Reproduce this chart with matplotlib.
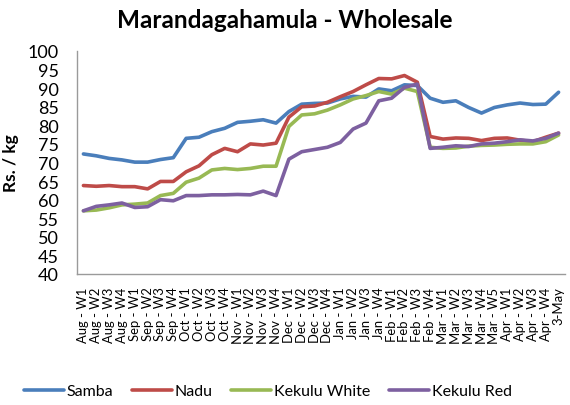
import matplotlib
matplotlib.use("Agg")
import matplotlib.pyplot as plt

plt.rcParams['font.family'] = ['Lato', 'DejaVu Sans']

months = ["Aug"] * 4 + ["Sep"] * 4 + ["Oct"] * 4 + ["Nov"] * 4 + ["Dec"] * 4 + ["Jan"] * 4 + ["Feb"] * 4 + ["Mar"] * 5 + ["Apr"] * 4
weeks = [1, 2, 3, 4] * 7 + [1, 2, 3, 4, 5] + [1, 2, 3, 4]
categories = [f"{m} - W{w}" for m, w in zip(months, weeks)] + ["3-May"]

samba = [72.3, 71.8, 71.1, 70.7, 70.1, 70.1, 70.8, 71.3, 76.5, 76.8, 78.3, 79.2, 80.8, 81.1, 81.5, 80.6,
         83.7, 85.7, 85.9, 86.0, 87.1, 87.8, 87.6, 89.8, 89.3, 90.9, 90.7, 87.3, 86.2, 86.6, 84.8, 83.3,
         84.8, 85.5, 86.0, 85.6, 85.7, 88.9]
nadu = [63.8, 63.6, 63.8, 63.5, 63.5, 62.9, 64.9, 64.9, 67.5, 69.1, 72.1, 73.8, 72.9, 75.0, 74.7, 75.2,
        82.2, 85.0, 85.2, 86.2, 87.7, 89.1, 90.9, 92.6, 92.5, 93.4, 91.6, 77.0, 76.3, 76.6, 76.5, 75.9,
        76.5, 76.6, 76.0, 75.6, 76.8, 77.9]
kekulu_white = [57.0, 57.2, 57.8, 58.6, 58.8, 59.1, 61.1, 61.7, 64.7, 65.8, 68.0, 68.4, 68.1, 68.4, 69.0, 69.0,
                79.7, 82.8, 83.1, 84.1, 85.5, 87.1, 88.0, 89.1, 88.4, 90.0, 89.1, 74.1, 73.8, 73.9, 74.4, 74.6,
                74.7, 74.9, 75.0, 75.0, 75.6, 77.4]
kekulu_red = [57.0, 58.2, 58.6, 59.1, 57.9, 58.1, 60.0, 59.7, 61.1, 61.1, 61.3, 61.3, 61.4, 61.3, 62.3, 61.1,
              70.9, 72.9, 73.5, 74.1, 75.4, 79.0, 80.6, 86.6, 87.3, 90.2, 91.1, 73.8, 74.1, 74.5, 74.3, 75.0,
              75.2, 75.6, 76.1, 75.8, 76.5, 77.9]

series = [("Samba", samba, "#4A7EBB"),
          ("Nadu", nadu, "#BE4B48"),
          ("Kekulu White", kekulu_white, "#98B954"),
          ("Kekulu Red", kekulu_red, "#7D60A0")]

W, H = 570, 406
fig = plt.figure(figsize=(W / 100, H / 100), dpi=100)
L, R, T, B = 77, 565, 52, 275
ax = fig.add_axes([L / W, (H - B) / H, (R - L) / W, (B - T) / H])

x = list(range(len(categories)))
for name, vals, col in series:
    ax.plot(x, vals, color=col, lw=2.6, label=name, solid_capstyle='round', solid_joinstyle='round')

ax.set_xlim(-0.5, len(categories) - 0.5)
ax.set_ylim(40, 100)
ax.set_yticks(range(40, 101, 5))
ax.set_xticks(x)
ax.set_xticklabels(categories, rotation=90, fontsize=9.4)
ax.tick_params(axis='x', length=0, pad=9)
ax.tick_params(axis='y', length=0, pad=13, labelsize=13)
for s in ['top', 'right']:
    ax.spines[s].set_visible(False)
for s in ['left', 'bottom']:
    ax.spines[s].set_color('#9A9A9A')
    ax.spines[s].set_linewidth(1.0)

ax.set_ylabel("Rs. / kg", fontsize=12.5, fontweight='bold', labelpad=6)
fig.text(0.5, 1 - 20 / H, "Marandagahamula - Wholesale", ha='center', va='center',
         fontsize=17.5, fontweight='bold')

fig.legend(loc='center', bbox_to_anchor=(0.47, 1 - 392 / H), ncol=4, frameon=False,
           fontsize=11.5, handlelength=2.5, handletextpad=0.2, columnspacing=1.15)

fig.savefig("out.png", dpi=100)
